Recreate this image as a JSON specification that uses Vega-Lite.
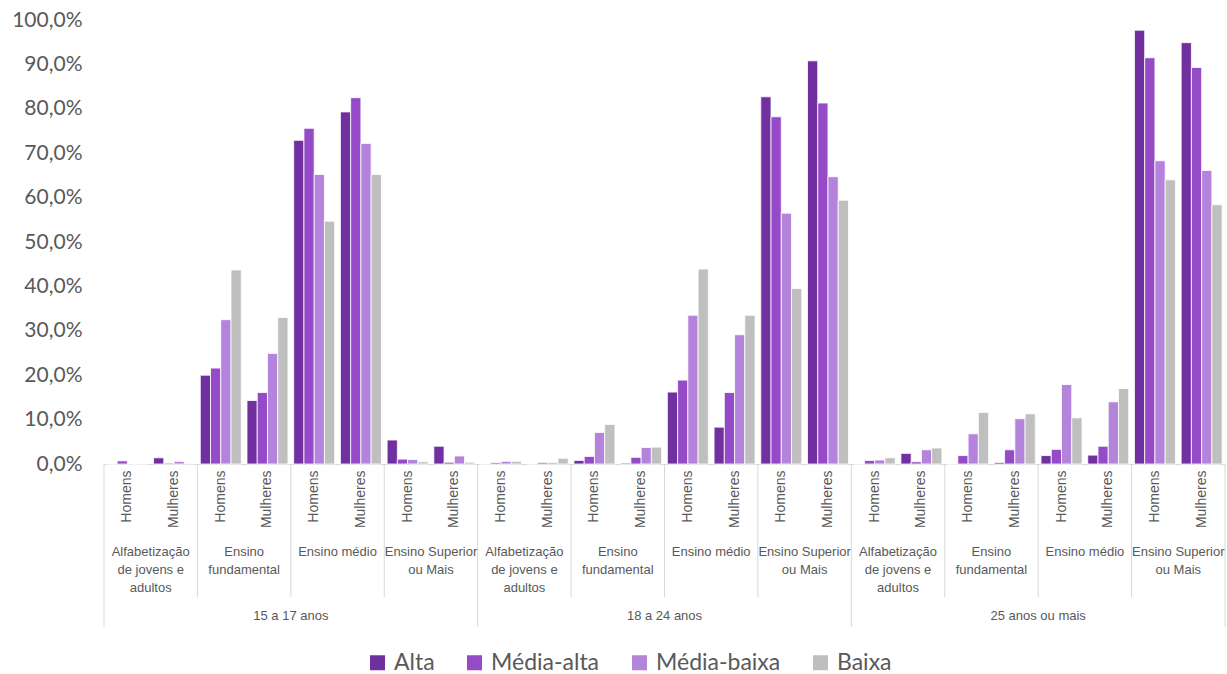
{
  "$schema": "https://vega.github.io/schema/vega-lite/v6.json",
  "autosize": {"type": "none"},
  "padding": {"left": 104, "top": 20, "right": 2, "bottom": 210},
  "width": 1121,
  "height": 444,
  "background": "white",
  "config": {"view": {"stroke": null}},
  "datasets": {
    "barras": [
      {"grupo": "15-17|AJA|Homens", "classe": "Alta", "valor": 0},
      {"grupo": "15-17|AJA|Homens", "classe": "Média-alta", "valor": 0.7},
      {"grupo": "15-17|AJA|Homens", "classe": "Média-baixa", "valor": 0},
      {"grupo": "15-17|AJA|Homens", "classe": "Baixa", "valor": 0},
      {"grupo": "15-17|AJA|Mulheres", "classe": "Alta", "valor": 1.4},
      {"grupo": "15-17|AJA|Mulheres", "classe": "Média-alta", "valor": 0.2},
      {"grupo": "15-17|AJA|Mulheres", "classe": "Média-baixa", "valor": 0.6},
      {"grupo": "15-17|AJA|Mulheres", "classe": "Baixa", "valor": 0.1},
      {"grupo": "15-17|EF|Homens", "classe": "Alta", "valor": 20.0},
      {"grupo": "15-17|EF|Homens", "classe": "Média-alta", "valor": 21.6},
      {"grupo": "15-17|EF|Homens", "classe": "Média-baixa", "valor": 32.5},
      {"grupo": "15-17|EF|Homens", "classe": "Baixa", "valor": 43.7},
      {"grupo": "15-17|EF|Mulheres", "classe": "Alta", "valor": 14.3},
      {"grupo": "15-17|EF|Mulheres", "classe": "Média-alta", "valor": 16.1},
      {"grupo": "15-17|EF|Mulheres", "classe": "Média-baixa", "valor": 24.9},
      {"grupo": "15-17|EF|Mulheres", "classe": "Baixa", "valor": 33.0},
      {"grupo": "15-17|EM|Homens", "classe": "Alta", "valor": 72.9},
      {"grupo": "15-17|EM|Homens", "classe": "Média-alta", "valor": 75.6},
      {"grupo": "15-17|EM|Homens", "classe": "Média-baixa", "valor": 65.2},
      {"grupo": "15-17|EM|Homens", "classe": "Baixa", "valor": 54.7},
      {"grupo": "15-17|EM|Mulheres", "classe": "Alta", "valor": 79.3},
      {"grupo": "15-17|EM|Mulheres", "classe": "Média-alta", "valor": 82.5},
      {"grupo": "15-17|EM|Mulheres", "classe": "Média-baixa", "valor": 72.2},
      {"grupo": "15-17|EM|Mulheres", "classe": "Baixa", "valor": 65.2},
      {"grupo": "15-17|ES|Homens", "classe": "Alta", "valor": 5.4},
      {"grupo": "15-17|ES|Homens", "classe": "Média-alta", "valor": 1.1},
      {"grupo": "15-17|ES|Homens", "classe": "Média-baixa", "valor": 1.0},
      {"grupo": "15-17|ES|Homens", "classe": "Baixa", "valor": 0.5},
      {"grupo": "15-17|ES|Mulheres", "classe": "Alta", "valor": 4.0},
      {"grupo": "15-17|ES|Mulheres", "classe": "Média-alta", "valor": 0.4},
      {"grupo": "15-17|ES|Mulheres", "classe": "Média-baixa", "valor": 1.8},
      {"grupo": "15-17|ES|Mulheres", "classe": "Baixa", "valor": 0.4},
      {"grupo": "18-24|AJA|Homens", "classe": "Alta", "valor": 0},
      {"grupo": "18-24|AJA|Homens", "classe": "Média-alta", "valor": 0.3},
      {"grupo": "18-24|AJA|Homens", "classe": "Média-baixa", "valor": 0.6},
      {"grupo": "18-24|AJA|Homens", "classe": "Baixa", "valor": 0.6},
      {"grupo": "18-24|AJA|Mulheres", "classe": "Alta", "valor": 0},
      {"grupo": "18-24|AJA|Mulheres", "classe": "Média-alta", "valor": 0.3},
      {"grupo": "18-24|AJA|Mulheres", "classe": "Média-baixa", "valor": 0.3},
      {"grupo": "18-24|AJA|Mulheres", "classe": "Baixa", "valor": 1.3},
      {"grupo": "18-24|EF|Homens", "classe": "Alta", "valor": 0.8},
      {"grupo": "18-24|EF|Homens", "classe": "Média-alta", "valor": 1.7},
      {"grupo": "18-24|EF|Homens", "classe": "Média-baixa", "valor": 7.1},
      {"grupo": "18-24|EF|Homens", "classe": "Baixa", "valor": 8.9},
      {"grupo": "18-24|EF|Mulheres", "classe": "Alta", "valor": 0.2},
      {"grupo": "18-24|EF|Mulheres", "classe": "Média-alta", "valor": 1.5},
      {"grupo": "18-24|EF|Mulheres", "classe": "Média-baixa", "valor": 3.7},
      {"grupo": "18-24|EF|Mulheres", "classe": "Baixa", "valor": 3.8},
      {"grupo": "18-24|EM|Homens", "classe": "Alta", "valor": 16.2},
      {"grupo": "18-24|EM|Homens", "classe": "Média-alta", "valor": 18.9},
      {"grupo": "18-24|EM|Homens", "classe": "Média-baixa", "valor": 33.5},
      {"grupo": "18-24|EM|Homens", "classe": "Baixa", "valor": 43.9},
      {"grupo": "18-24|EM|Mulheres", "classe": "Alta", "valor": 8.3},
      {"grupo": "18-24|EM|Mulheres", "classe": "Média-alta", "valor": 16.1},
      {"grupo": "18-24|EM|Mulheres", "classe": "Média-baixa", "valor": 29.1},
      {"grupo": "18-24|EM|Mulheres", "classe": "Baixa", "valor": 33.5},
      {"grupo": "18-24|ES|Homens", "classe": "Alta", "valor": 82.7},
      {"grupo": "18-24|ES|Homens", "classe": "Média-alta", "valor": 78.2},
      {"grupo": "18-24|ES|Homens", "classe": "Média-baixa", "valor": 56.5},
      {"grupo": "18-24|ES|Homens", "classe": "Baixa", "valor": 39.5},
      {"grupo": "18-24|ES|Mulheres", "classe": "Alta", "valor": 90.8},
      {"grupo": "18-24|ES|Mulheres", "classe": "Média-alta", "valor": 81.3},
      {"grupo": "18-24|ES|Mulheres", "classe": "Média-baixa", "valor": 64.7},
      {"grupo": "18-24|ES|Mulheres", "classe": "Baixa", "valor": 59.4},
      {"grupo": "25+|AJA|Homens", "classe": "Alta", "valor": 0},
      {"grupo": "25+|AJA|Homens", "classe": "Média-alta", "valor": 0.8},
      {"grupo": "25+|AJA|Homens", "classe": "Média-baixa", "valor": 0.9},
      {"grupo": "25+|AJA|Homens", "classe": "Baixa", "valor": 1.4},
      {"grupo": "25+|AJA|Mulheres", "classe": "Alta", "valor": 2.4},
      {"grupo": "25+|AJA|Mulheres", "classe": "Média-alta", "valor": 0.5},
      {"grupo": "25+|AJA|Mulheres", "classe": "Média-baixa", "valor": 3.2},
      {"grupo": "25+|AJA|Mulheres", "classe": "Baixa", "valor": 3.6},
      {"grupo": "25+|EF|Homens", "classe": "Alta", "valor": 0},
      {"grupo": "25+|EF|Homens", "classe": "Média-alta", "valor": 1.9},
      {"grupo": "25+|EF|Homens", "classe": "Média-baixa", "valor": 6.8},
      {"grupo": "25+|EF|Homens", "classe": "Baixa", "valor": 11.6},
      {"grupo": "25+|EF|Mulheres", "classe": "Alta", "valor": 0.3},
      {"grupo": "25+|EF|Mulheres", "classe": "Média-alta", "valor": 3.2},
      {"grupo": "25+|EF|Mulheres", "classe": "Média-baixa", "valor": 10.2},
      {"grupo": "25+|EF|Mulheres", "classe": "Baixa", "valor": 11.3},
      {"grupo": "25+|EM|Homens", "classe": "Alta", "valor": 1.9},
      {"grupo": "25+|EM|Homens", "classe": "Média-alta", "valor": 3.3},
      {"grupo": "25+|EM|Homens", "classe": "Média-baixa", "valor": 17.9},
      {"grupo": "25+|EM|Homens", "classe": "Baixa", "valor": 10.4},
      {"grupo": "25+|EM|Mulheres", "classe": "Alta", "valor": 2.0},
      {"grupo": "25+|EM|Mulheres", "classe": "Média-alta", "valor": 4.0},
      {"grupo": "25+|EM|Mulheres", "classe": "Média-baixa", "valor": 14.0},
      {"grupo": "25+|EM|Mulheres", "classe": "Baixa", "valor": 17.0},
      {"grupo": "25+|ES|Homens", "classe": "Alta", "valor": 97.7},
      {"grupo": "25+|ES|Homens", "classe": "Média-alta", "valor": 91.5},
      {"grupo": "25+|ES|Homens", "classe": "Média-baixa", "valor": 68.3},
      {"grupo": "25+|ES|Homens", "classe": "Baixa", "valor": 64.0},
      {"grupo": "25+|ES|Mulheres", "classe": "Alta", "valor": 94.9},
      {"grupo": "25+|ES|Mulheres", "classe": "Média-alta", "valor": 89.3},
      {"grupo": "25+|ES|Mulheres", "classe": "Média-baixa", "valor": 66.1},
      {"grupo": "25+|ES|Mulheres", "classe": "Baixa", "valor": 58.4}
    ],
    "niveis": [
      {"grupo": "15-17|AJA|Mulheres", "rotulo": "Alfabetização\nde jovens e\nadultos"},
      {"grupo": "15-17|EF|Mulheres", "rotulo": "Ensino\nfundamental"},
      {"grupo": "15-17|EM|Mulheres", "rotulo": "Ensino médio"},
      {"grupo": "15-17|ES|Mulheres", "rotulo": "Ensino Superior\nou Mais"},
      {"grupo": "18-24|AJA|Mulheres", "rotulo": "Alfabetização\nde jovens e\nadultos"},
      {"grupo": "18-24|EF|Mulheres", "rotulo": "Ensino\nfundamental"},
      {"grupo": "18-24|EM|Mulheres", "rotulo": "Ensino médio"},
      {"grupo": "18-24|ES|Mulheres", "rotulo": "Ensino Superior\nou Mais"},
      {"grupo": "25+|AJA|Mulheres", "rotulo": "Alfabetização\nde jovens e\nadultos"},
      {"grupo": "25+|EF|Mulheres", "rotulo": "Ensino\nfundamental"},
      {"grupo": "25+|EM|Mulheres", "rotulo": "Ensino médio"},
      {"grupo": "25+|ES|Mulheres", "rotulo": "Ensino Superior\nou Mais"}
    ],
    "idades": [
      {"grupo": "15-17|EM|Homens", "rotulo": "15 a 17 anos"},
      {"grupo": "18-24|EM|Homens", "rotulo": "18 a 24 anos"},
      {"grupo": "25+|EM|Homens", "rotulo": "25 anos ou mais"}
    ],
    "inicio_nivel": [
      {"grupo": "15-17|EF|Homens"}, {"grupo": "15-17|EM|Homens"}, {"grupo": "15-17|ES|Homens"},
      {"grupo": "18-24|EF|Homens"}, {"grupo": "18-24|EM|Homens"}, {"grupo": "18-24|ES|Homens"},
      {"grupo": "25+|EF|Homens"}, {"grupo": "25+|EM|Homens"}, {"grupo": "25+|ES|Homens"}
    ],
    "inicio_idade": [
      {"grupo": "15-17|AJA|Homens"}, {"grupo": "18-24|AJA|Homens"}, {"grupo": "25+|AJA|Homens"}
    ],
    "fim": [
      {"grupo": "25+|ES|Mulheres"}
    ]
  },
  "encoding": {
    "x": {
      "field": "grupo",
      "type": "nominal",
      "scale": {
        "domain": [
          "15-17|AJA|Homens", "15-17|AJA|Mulheres", "15-17|EF|Homens", "15-17|EF|Mulheres",
          "15-17|EM|Homens", "15-17|EM|Mulheres", "15-17|ES|Homens", "15-17|ES|Mulheres",
          "18-24|AJA|Homens", "18-24|AJA|Mulheres", "18-24|EF|Homens", "18-24|EF|Mulheres",
          "18-24|EM|Homens", "18-24|EM|Mulheres", "18-24|ES|Homens", "18-24|ES|Mulheres",
          "25+|AJA|Homens", "25+|AJA|Mulheres", "25+|EF|Homens", "25+|EF|Mulheres",
          "25+|EM|Homens", "25+|EM|Mulheres", "25+|ES|Homens", "25+|ES|Mulheres"
        ],
        "paddingInner": 0,
        "paddingOuter": 0
      },
      "axis": {
        "title": null,
        "ticks": false,
        "tickSize": 0,
        "domain": true,
        "domainColor": "#D9D9D9",
        "domainWidth": 1,
        "labelAngle": -90,
        "labelExpr": "split(datum.label, '|')[2]",
        "labelFont": "Liberation Sans",
        "labelFontSize": 14,
        "labelColor": "#595959",
        "labelPadding": 6
      }
    }
  },
  "layer": [
    {
      "data": {"name": "barras"},
      "mark": {"type": "bar", "stroke": "white", "strokeWidth": 0.8},
      "encoding": {
        "xOffset": {
          "field": "classe",
          "type": "nominal",
          "sort": ["Alta", "Média-alta", "Média-baixa", "Baixa"],
          "scale": {"paddingInner": 0, "paddingOuter": 0.28}
        },
        "y": {
          "field": "valor",
          "type": "quantitative",
          "scale": {"domain": [0, 100], "nice": false},
          "axis": {
            "title": null,
            "values": [0, 10, 20, 30, 40, 50, 60, 70, 80, 90, 100],
            "labelExpr": "replace(format(datum.value, '.1f'), '.', ',') + '%'",
            "grid": false,
            "domain": false,
            "ticks": false,
            "tickSize": 0,
            "labelPadding": 22,
            "labelFont": "Lato",
            "labelFontSize": 21,
            "labelColor": "#595959"
          }
        },
        "color": {
          "field": "classe",
          "type": "nominal",
          "sort": ["Alta", "Média-alta", "Média-baixa", "Baixa"],
          "scale": {
            "domain": ["Alta", "Média-alta", "Média-baixa", "Baixa"],
            "range": ["#7030A0", "#954AC7", "#B483DB", "#BFBFBF"]
          },
          "legend": {
            "title": null,
            "orient": "none",
            "legendX": 262,
            "legendY": 631,
            "direction": "horizontal",
            "symbolType": "square",
            "symbolSize": 225,
            "symbolStrokeWidth": 0,
            "labelFont": "Lato",
            "labelFontSize": 23,
            "labelColor": "#595959",
            "labelOffset": 5,
            "columnPadding": 28
          }
        }
      }
    },
    {
      "data": {"name": "inicio_nivel"},
      "mark": {"type": "rule", "color": "#D9D9D9", "strokeWidth": 1},
      "encoding": {
        "x": {"field": "grupo", "type": "nominal", "bandPosition": 0},
        "y": {"datum": 0, "type": "quantitative"},
        "y2": {"datum": -30}
      }
    },
    {
      "data": {"name": "inicio_idade"},
      "mark": {"type": "rule", "color": "#D9D9D9", "strokeWidth": 1},
      "encoding": {
        "x": {"field": "grupo", "type": "nominal", "bandPosition": 0},
        "y": {"datum": 0, "type": "quantitative"},
        "y2": {"datum": -36.7}
      }
    },
    {
      "data": {"name": "fim"},
      "mark": {"type": "rule", "color": "#D9D9D9", "strokeWidth": 1},
      "encoding": {
        "x": {"field": "grupo", "type": "nominal", "bandPosition": 1},
        "y": {"datum": 0, "type": "quantitative"},
        "y2": {"datum": -36.7}
      }
    },
    {
      "data": {"name": "niveis"},
      "mark": {
        "type": "text",
        "align": "center",
        "baseline": "top",
        "lineBreak": "\n",
        "lineHeight": 18,
        "font": "Liberation Sans",
        "fontSize": 13,
        "color": "#595959"
      },
      "encoding": {
        "x": {"field": "grupo", "type": "nominal", "bandPosition": 0},
        "y": {"datum": -18.5, "type": "quantitative"},
        "text": {"field": "rotulo"}
      }
    },
    {
      "data": {"name": "idades"},
      "mark": {
        "type": "text",
        "align": "center",
        "baseline": "middle",
        "font": "Liberation Sans",
        "fontSize": 13,
        "color": "#595959"
      },
      "encoding": {
        "x": {"field": "grupo", "type": "nominal", "bandPosition": 0},
        "y": {"datum": -34.2, "type": "quantitative"},
        "text": {"field": "rotulo"}
      }
    }
  ]
}
